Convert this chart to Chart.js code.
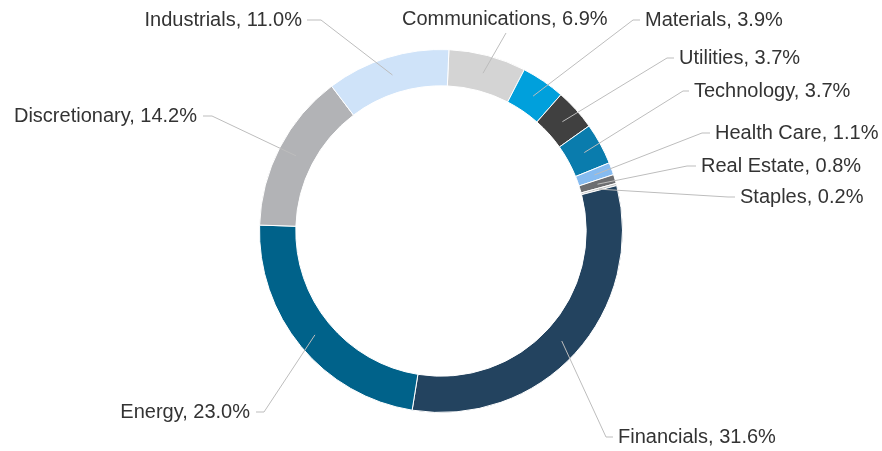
<!DOCTYPE html>
<html>
<head>
<meta charset="utf-8">
<script src="https://cdn.jsdelivr.net/npm/chart.js@4"></script>
<style>
    html, body { margin: 0; padding: 0; background: #ffffff; }
    #wrap { width: 882px; height: 451px; }
</style>
</head>
<body>
<div id="wrap"><canvas id="sectorChart" width="882" height="451"></canvas></div>
<script>
// 行业名称与权重（%）
const sectors = ['Communications', 'Materials', 'Utilities', 'Technology', 'Health Care',
    'Real Estate', 'Staples', 'Financials', 'Energy', 'Discretionary', 'Industrials'];
const weights = [6.9, 3.9, 3.7, 3.7, 1.1, 0.8, 0.2, 31.6, 23.0, 14.2, 11.0];
const sectorColors = ['#d4d4d4', '#00a0dc', '#404040', '#0a7cad', '#86bbf0',
    '#6d6e71', '#c4c4c4', '#23435f', '#00628a', '#b2b3b6', '#cfe3f9'];

// 标签位置: [文字x, 文字y, 对齐, 折点x, 折点y, 水平线终点x]
const labelLayout = [
    [402, 19, 'left', 506, 33, null],
    [645, 20, 'left', 633, 20, 640],
    [679, 58, 'left', 667, 58, 674],
    [694, 91, 'left', 683, 91, 689],
    [715, 133, 'left', 702, 133, 710],
    [701, 166, 'left', 687, 166, 696],
    [740, 197, 'left', 728, 197, 735],
    [618, 437, 'left', 606, 437, 613],
    [250, 412, 'right', 264, 412, 256],
    [197, 116, 'right', 212, 116, 203],
    [302, 20, 'right', 321, 20, 307]
];

// 外部标签与引线
const outsideLabels = {
    id: 'outsideLabels',
    afterDatasetsDraw(chart) {
        const ctx = chart.ctx;
        const arcs = chart.getDatasetMeta(0).data;
        ctx.save();
        arcs.forEach((arc, i) => {
            const p = arc.getProps(['x', 'y', 'startAngle', 'endAngle', 'innerRadius', 'outerRadius'], true);
            const mid = (p.startAngle + p.endAngle) / 2;
            const r = (p.innerRadius + p.outerRadius) / 2;
            const ax = p.x + Math.cos(mid) * r;
            const ay = p.y + Math.sin(mid) * r;
            const [tx, ty, align, bx, by, ex] = labelLayout[i];
            ctx.beginPath();
            ctx.moveTo(ax, ay);
            ctx.lineTo(bx, by);
            if (ex !== null) ctx.lineTo(ex, by);
            ctx.strokeStyle = '#bdbdbd';
            ctx.lineWidth = 1;
            ctx.stroke();
            ctx.fillStyle = '#333333';
            ctx.font = '20px "Liberation Sans", Arial, sans-serif';
            ctx.textAlign = align;
            ctx.textBaseline = 'middle';
            ctx.fillText(sectors[i] + ', ' + weights[i].toFixed(1) + '%', tx, ty);
        });
        ctx.restore();
    }
};

document.addEventListener('DOMContentLoaded', function () {
    const ctx = document.getElementById('sectorChart').getContext('2d');
    new Chart(ctx, {
        type: 'doughnut',
        data: {
            labels: sectors,
            datasets: [{
                data: weights,
                backgroundColor: sectorColors,
                borderColor: '#ffffff',
                borderWidth: 1
            }]
        },
        options: {
            responsive: false,
            animation: false,
            rotation: 2.5,
            cutout: '80%',
            layout: {
                padding: { top: 49, bottom: 38, left: 0, right: 0 }
            },
            plugins: {
                legend: { display: false },
                tooltip: { enabled: false }
            }
        },
        plugins: [outsideLabels]
    });
});
</script>
</body>
</html>
